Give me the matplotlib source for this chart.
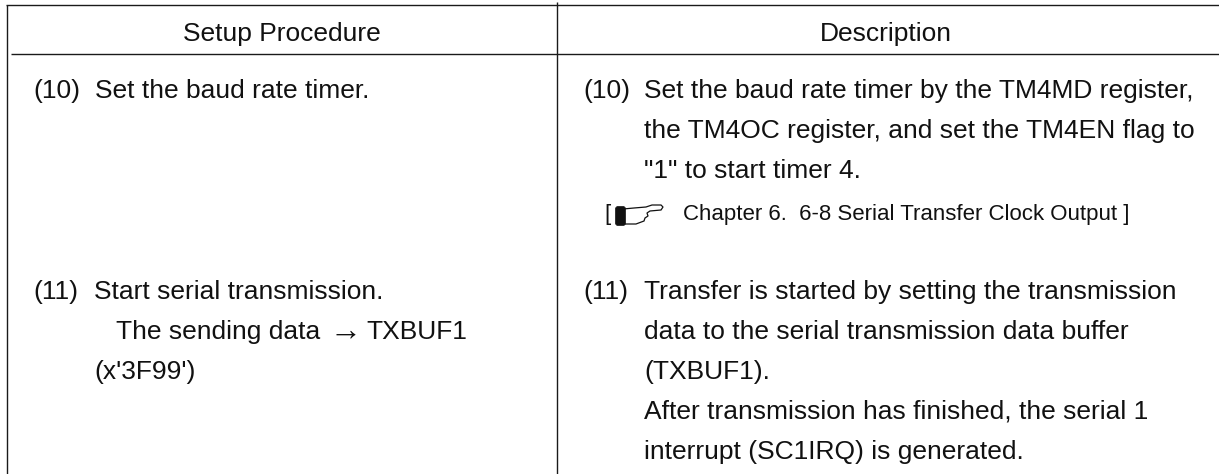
"""Setup procedure / description table page, drawn in pixel coordinates."""
import matplotlib
matplotlib.use('Agg')
import matplotlib.pyplot as plt
from matplotlib.patches import FancyBboxPatch, Polygon

W, H = 1219, 474
FONT = 'Liberation Sans'
SIZE = 19
REF_SIZE = 16

HEADERS = ['Setup Procedure', 'Description']
HEADER_X = [281.5, 886]
HEADER_Y = 41

LEFT_NUMS = ['(10)', '(11)']
LEFT_NUM_Y = [98, 299]
LEFT_LINES = ['Set the baud rate timer.',
              'Start serial transmission.',
              'The sending data',
              'TXBUF1',
              "(x'3F99')"]
LEFT_X = [95, 94, 116, 366, 94]
LEFT_Y = [98, 299, 339, 339, 379]
ARROW = '\u2192'

RIGHT_NUMS = ['(10)', '(11)']
RIGHT_NUM_Y = [98, 299]
RIGHT_LINES = ['Set the baud rate timer by the TM4MD register,',
               'the TM4OC register, and set the TM4EN flag to',
               '"1" to start timer 4.',
               'Transfer is started by setting the transmission',
               'data to the serial transmission data buffer',
               '(TXBUF1).',
               'After transmission has finished, the serial 1',
               'interrupt (SC1IRQ) is generated.']
RIGHT_Y = [98, 138, 178, 299, 339, 379, 419, 459]

REF_LEFT = '['
REF_TEXT = 'Chapter 6.  6-8 Serial Transfer Clock Output ]'

fig = plt.figure(figsize=(W / 100, H / 100), dpi=100)
ax = fig.add_axes([0, 0, 1, 1])
ax.set_xlim(0, W)
ax.set_ylim(H, 0)
ax.axis('off')

line_col = '#1a1a1a'
ax.plot([6, W], [5, 5], color=line_col, lw=1.0, solid_capstyle='butt')
ax.plot([11, W], [53.5, 53.5], color=line_col, lw=1.0, solid_capstyle='butt')
ax.plot([6.5, 6.5], [5, H], color=line_col, lw=1.0, solid_capstyle='butt')
ax.plot([556.5, 556.5], [2, H], color=line_col, lw=1.0, solid_capstyle='butt')


def put(x, y, label, size=SIZE, ha='left'):
    ax.text(x, y, label, family=FONT, fontsize=size, ha=ha, va='baseline', color='#111111')


for label, x in zip(HEADERS, HEADER_X):
    put(x, HEADER_Y, label, ha='center')
for label, y in zip(LEFT_NUMS, LEFT_NUM_Y):
    put(33, y, label)
for label, x, y in zip(LEFT_LINES, LEFT_X, LEFT_Y):
    put(x, y, label)
put(330, 340, ARROW, size=23)
for label, y in zip(RIGHT_NUMS, RIGHT_NUM_Y):
    put(583, y, label)
for label, y in zip(RIGHT_LINES, RIGHT_Y):
    put(644, y, label)

put(604, 220, REF_LEFT, size=REF_SIZE)
put(683, 220, REF_TEXT, size=REF_SIZE)

# pointing hand icon
ax.add_patch(Polygon([(623, 209), (634, 208), (646, 207), (652, 205), (661, 205), (663, 207),
                      (661, 210), (650, 211), (647, 213), (648, 216), (645, 218), (644, 221),
                      (636, 224), (623, 224)],
                     closed=True, facecolor='white', edgecolor='#111111', lw=0.9))
ax.add_patch(FancyBboxPatch((618, 209), 5, 14, boxstyle='round,pad=2.5', facecolor='#111111', edgecolor='#111111', lw=0.5))

fig.savefig('out.png', dpi=100)
